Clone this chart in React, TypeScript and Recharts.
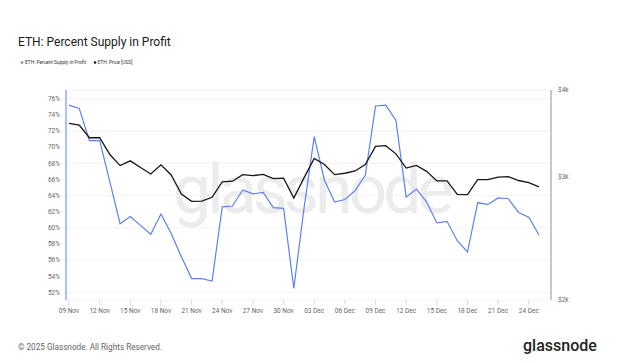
import React from 'react';
import { LineChart, Line, XAxis, YAxis, CartesianGrid } from 'recharts';

const dates = [
  '09 Nov', '10 Nov', '11 Nov', '12 Nov', '13 Nov', '14 Nov', '15 Nov', '16 Nov', '17 Nov', '18 Nov',
  '19 Nov', '20 Nov', '21 Nov', '22 Nov', '23 Nov', '24 Nov', '25 Nov', '26 Nov', '27 Nov', '28 Nov',
  '29 Nov', '30 Nov', '01 Dec', '02 Dec', '03 Dec', '04 Dec', '05 Dec', '06 Dec', '07 Dec', '08 Dec',
  '09 Dec', '10 Dec', '11 Dec', '12 Dec', '13 Dec', '14 Dec', '15 Dec', '16 Dec', '17 Dec', '18 Dec',
  '19 Dec', '20 Dec', '21 Dec', '22 Dec', '23 Dec', '24 Dec', '25 Dec',
];

const percentSupply = [
  75.2, 74.8, 70.8, 70.8, 65.7, 60.5, 61.4, 60.3, 59.2, 61.7,
  59.3, 56.4, 53.7, 53.7, 53.4, 62.6, 62.7, 64.7, 64.2, 64.4,
  62.5, 62.4, 52.5, 62.4, 71.3, 65.9, 63.2, 63.5, 64.6, 66.5,
  75.1, 75.2, 73.3, 63.8, 64.8, 63.2, 60.6, 60.8, 58.4, 57.0,
  63.1, 62.9, 63.7, 63.6, 61.9, 61.3, 59.1,
];

const ethPrice = [
  3583, 3563, 3417, 3417, 3233, 3117, 3166, 3097, 3032, 3124,
  3022, 2838, 2770, 2772, 2807, 2953, 2960, 3025, 3015, 3028,
  2985, 2990, 2801, 2993, 3191, 3128, 3025, 3039, 3062, 3128,
  3320, 3328, 3240, 3091, 3118, 3058, 2963, 2963, 2835, 2832,
  2976, 2976, 3000, 3006, 2967, 2947, 2905,
];

const percentTicks = [52, 54, 56, 58, 60, 62, 64, 66, 68, 70, 72, 74, 76];
const priceTicks = [2000, 3000, 4000];
const priceTickLabels = ['$2k', '$3k', '$4k'];

const title = 'ETH: Percent Supply in Profit';
const seriesNames = ['ETH: Percent Supply in Profit', 'ETH: Price [USD]'];
const footer = '\u00a9 2025 Glassnode. All Rights Reserved.';
const brand = 'glassnode';

const BLUE = '#5f80f2';
const BLACK = '#161616';
const FONT = 'Roboto, "Liberation Sans", Arial, sans-serif';

const data = dates.map((d, i) => ({ date: d, pct: percentSupply[i], price: ethPrice[i] }));

export default function App() {
  return (
    <div style={{ position: 'absolute', left: 0, top: 0, width: 625, height: 363, background: '#fff', fontFamily: FONT }}>
      <svg width={625} height={363} style={{ position: 'absolute', left: 0, top: 0 }}>
        <text x={18} y={46} fontSize={12} fill="#1a1a1a" fontFamily={FONT}>{title}</text>
        <circle cx={22} cy={62.5} r={1.3} fill={BLUE} />
        <text x={25} y={64.2} fontSize={4.8} fill="#333" fontFamily={FONT}>{seriesNames[0]}</text>
        <circle cx={95} cy={62.5} r={1.3} fill={BLACK} />
        <text x={97.5} y={64.2} fontSize={4.8} fill="#333" fontFamily={FONT}>{seriesNames[1]}</text>
        <text x={173} y={213} fontSize={68} letterSpacing={-4} fill="#ececec" fontFamily={FONT}>{brand}</text>
        <text x={18} y={349.5} fontSize={8.2} fill="#666" fontFamily={FONT}>{footer}</text>
        <text x={523} y={351} fontSize={16} fontWeight={500} fill="#222" fontFamily={FONT}>{brand}</text>
      </svg>
      <div style={{ position: 'absolute', left: 0, top: 0 }}>
        <LineChart width={625} height={363} data={data} margin={{ top: 90, right: 0, bottom: 33, left: 0 }}>
          <CartesianGrid yAxisId="left" vertical={false} stroke="#efefef" strokeWidth={0.8} />
          <XAxis
            dataKey="date"
            interval={2}
            padding={{ left: 3, right: 12 }}
            axisLine={false}
            tickLine={{ stroke: '#dcdcdc' }}
            tickSize={5}
            tickMargin={3}
            height={30}
            tick={{ fontSize: 6.5, fill: '#666', fontFamily: FONT }}
          />
          <YAxis
            yAxisId="left"
            orientation="left"
            type="number"
            domain={[51.05, 77.08]}
            ticks={percentTicks}
            allowDataOverflow
            width={66}
            axisLine={{ stroke: BLUE, strokeWidth: 1 }}
            tickLine={false}
            tickSize={4}
            tickMargin={2}
            tickFormatter={(v: number) => `${v}%`}
            tick={{ fontSize: 6.5, fill: '#666', fontFamily: FONT }}
          />
          <YAxis
            yAxisId="right"
            orientation="right"
            type="number"
            scale="log"
            domain={[2000, 4000]}
            ticks={priceTicks}
            allowDataOverflow
            width={74}
            axisLine={{ stroke: '#c8c8c8', strokeWidth: 2 }}
            tickLine={false}
            tickSize={5}
            tickMargin={2}
            tickFormatter={(v: number) => priceTickLabels[priceTicks.indexOf(v)] ?? ''}
            tick={{ fontSize: 6.5, fill: '#666', fontFamily: FONT }}
          />
          <Line yAxisId="left" type="linear" dataKey="pct" stroke={BLUE} strokeWidth={1.2} dot={false} isAnimationActive={false} />
          <Line yAxisId="right" type="linear" dataKey="price" stroke={BLACK} strokeWidth={1.3} dot={false} isAnimationActive={false} />
        </LineChart>
      </div>
    </div>
  );
}
